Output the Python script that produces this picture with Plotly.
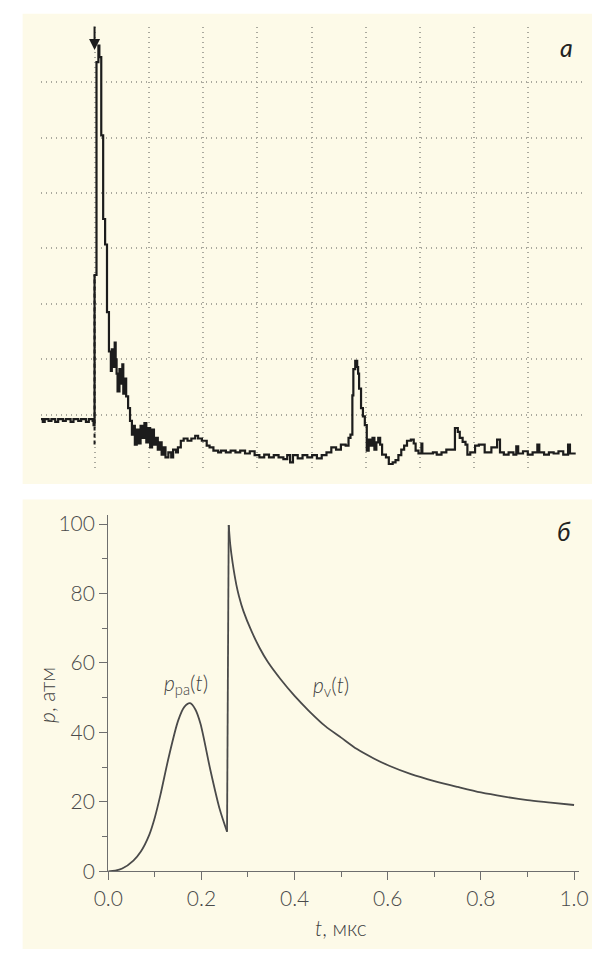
import plotly.graph_objects as go

# ---------------- panel a: oscilloscope trace (grid divisions) ----------------
scope_t = [0.00, 0.035, 0.071, 0.142, 0.195, 0.265, 0.319, 0.407, 0.460, 0.549,
           0.602, 0.690, 0.743, 0.832, 0.885, 0.956, 0.973, 0.991, 1.027, 1.062,
           1.080, 1.115, 1.150, 1.186, 1.221, 1.257, 1.292, 1.310, 1.345, 1.363,
           1.381, 1.398, 1.416, 1.451, 1.469, 1.504, 1.522, 1.558, 1.575, 1.611,
           1.646, 1.681, 1.699, 1.735, 1.770, 1.805, 1.841, 1.876, 1.912, 1.947,
           1.982, 2.018, 2.053, 2.088, 2.124, 2.159, 2.195, 2.230, 2.265, 2.301,
           2.354, 2.407, 2.442, 2.496, 2.531, 2.584, 2.637, 2.708, 2.779, 2.850,
           2.903, 2.973, 3.062, 3.115, 3.186, 3.274, 3.327, 3.416, 3.504, 3.593,
           3.681, 3.770, 3.858, 3.947, 4.035, 4.124, 4.212, 4.301, 4.389, 4.478,
           4.549, 4.602, 4.655, 4.743, 4.832, 4.920, 5.009, 5.097, 5.186, 5.274,
           5.363, 5.451, 5.540, 5.628, 5.681, 5.717, 5.752, 5.770, 5.805, 5.841,
           5.858, 5.876, 5.912, 5.947, 5.982, 6.018, 6.053, 6.088, 6.124, 6.159,
           6.195, 6.230, 6.265, 6.301, 6.372, 6.425, 6.496, 6.549, 6.602, 6.655,
           6.708, 6.761, 6.832, 6.885, 6.920, 6.973, 7.027, 7.044, 7.133, 7.239,
           7.310, 7.398, 7.487, 7.575, 7.646, 7.699, 7.735, 7.788, 7.841, 7.876,
           7.929, 8.018, 8.088, 8.195, 8.319, 8.425, 8.478, 8.549, 8.637, 8.726,
           8.779, 8.814, 8.903, 8.991, 9.080, 9.168, 9.204, 9.292, 9.381, 9.469,
           9.558, 9.646, 9.735, 9.770, 9.876]
scope_v = [0.92, 0.87, 0.92, 0.89, 0.92, 0.87, 0.92, 0.89, 0.92, 0.87,
           0.92, 0.89, 0.92, 0.87, 0.92, 0.89, 0.81, 3.52, 7.36, 7.66,
           7.45, 6.04, 4.53, 4.07, 2.85, 2.14, 1.79, 2.18, 1.86, 2.30,
           2.00, 1.74, 1.42, 1.82, 1.56, 1.91, 1.38, 1.65, 1.33, 1.12,
           0.89, 0.64, 0.80, 0.46, 0.73, 0.48, 0.80, 0.58, 0.85, 0.50,
           0.76, 0.41, 0.73, 0.46, 0.58, 0.37, 0.50, 0.28, 0.41, 0.23,
           0.32, 0.23, 0.37, 0.32, 0.41, 0.53, 0.57, 0.53, 0.57, 0.62,
           0.57, 0.53, 0.44, 0.41, 0.35, 0.32, 0.35, 0.32, 0.35, 0.32,
           0.35, 0.30, 0.34, 0.27, 0.23, 0.28, 0.23, 0.27, 0.23, 0.20,
           0.27, 0.14, 0.27, 0.21, 0.27, 0.23, 0.27, 0.21, 0.27, 0.32,
           0.41, 0.37, 0.46, 0.44, 0.58, 0.64, 1.35, 1.82, 1.97, 1.86,
           1.74, 1.47, 1.12, 0.97, 0.81, 0.35, 0.55, 0.44, 0.58, 0.37,
           0.50, 0.58, 0.46, 0.28, 0.23, 0.11, 0.14, 0.18, 0.27, 0.37,
           0.44, 0.53, 0.55, 0.48, 0.35, 0.30, 0.48, 0.30, 0.30, 0.32,
           0.28, 0.32, 0.37, 0.37, 0.76, 0.69, 0.58, 0.51, 0.46, 0.28,
           0.32, 0.44, 0.46, 0.32, 0.41, 0.55, 0.32, 0.28, 0.32, 0.28,
           0.43, 0.30, 0.34, 0.28, 0.32, 0.46, 0.32, 0.28, 0.32, 0.30,
           0.34, 0.28, 0.46, 0.30, 0.30]

# fast rising edge (drawn dashed) and trigger marker position
edge_t = 0.991
edge_v = [0.46, 3.52]
trigger_v = 7.58

# ---------------- panel б: computed pressure ----------------
t_pa = [0.0, 0.015, 0.030, 0.054, 0.070, 0.088, 0.100, 0.112, 0.130, 0.150,
        0.163, 0.1756, 0.187, 0.198, 0.219, 0.239, 0.255]
p_pa = [0.0, 0.2, 0.8, 3.1, 5.7, 10.5, 15.5, 22.0, 33.0, 43.4,
        47.3, 48.4, 46.6, 42.5, 29.3, 18.0, 11.4]

t_v = [0.2586, 0.262, 0.267, 0.275, 0.2805, 0.290, 0.308, 0.325, 0.342, 0.370,
       0.400, 0.430, 0.466, 0.500, 0.534, 0.570, 0.603, 0.650, 0.700, 0.750,
       0.800, 0.850, 0.900, 0.950, 1.000]
p_v = [99.7, 94.0, 88.8, 82.5, 79.3, 75.0, 69.0, 64.3, 60.4, 55.3,
       50.5, 46.3, 41.8, 38.5, 35.2, 32.5, 30.4, 28.0, 26.0, 24.3,
       22.7, 21.5, 20.5, 19.8, 19.1]

x_ticks = [0.0, 0.2, 0.4, 0.6, 0.8, 1.0]
y_ticks = [0, 20, 40, 60, 80, 100]

W, H = 602, 960
CREAM = "#fdfae8"
INK = "#1c1c1c"
CURVE = "#4a4a4a"
AXIS = "#6e6e6e"
FONT = "Lato"


def px_x(v):
    """Window x position -> paper fraction."""
    return v / W


def px_y(v):
    """Window y position (from top) -> paper fraction."""
    return 1 - v / H


fig = go.Figure()

# oscilloscope trace
fig.add_trace(go.Scatter(x=scope_t, y=scope_v, mode="lines",
                         line=dict(color=INK, width=2.2, shape="hv"),
                         xaxis="x2", yaxis="y2", showlegend=False,
                         hoverinfo="skip"))
fig.add_trace(go.Scatter(x=[edge_t, edge_t], y=edge_v, mode="lines",
                         line=dict(color=INK, width=2, dash="4px,3px"),
                         xaxis="x2", yaxis="y2", showlegend=False,
                         hoverinfo="skip"))

# pressure curves
fig.add_trace(go.Scatter(x=t_pa, y=p_pa, mode="lines",
                         line=dict(color=CURVE, width=1.8, shape="spline", smoothing=0.8),
                         showlegend=False, hoverinfo="skip"))
fig.add_trace(go.Scatter(x=[t_pa[-1], t_v[0]], y=[p_pa[-1], p_v[0]], mode="lines",
                         line=dict(color=CURVE, width=1.8),
                         showlegend=False, hoverinfo="skip"))
fig.add_trace(go.Scatter(x=t_v, y=p_v, mode="lines",
                         line=dict(color=CURVE, width=1.8, shape="spline", smoothing=0.8),
                         showlegend=False, hoverinfo="skip"))

# panel backgrounds
shapes = [
    dict(type="rect", xref="paper", yref="paper", layer="below",
         x0=px_x(8), x1=1, y0=px_y(487), y1=px_y(9),
         fillcolor=CREAM, line=dict(width=0)),
    dict(type="rect", xref="paper", yref="paper", layer="below",
         x0=px_x(8), x1=1, y0=0, y1=px_y(503),
         fillcolor=CREAM, line=dict(width=0)),
]

grid_style = dict(showgrid=True, gridcolor="#aaa99e", gridwidth=1.6,
                  griddash="1.6px,3.4px", zeroline=False, showline=False,
                  showticklabels=False, ticks="", dtick=1, fixedrange=True)

tick_font = dict(family=FONT, size=21, color="#4a4a4a", weight=300)
label_font = dict(family=FONT, size=21, color="#404040", weight=300)
centered = dict(xanchor="center", yanchor="middle", showarrow=False)

annotations = [
    # trigger arrow
    dict(x=edge_t, y=trigger_v, xref="x2", yref="y2", text="", showarrow=True,
         ax=0, ay=-25, arrowhead=2, arrowsize=1.1, arrowwidth=2, arrowcolor=INK),
    # panel letters
    dict(x=px_x(575), y=px_y(43), xref="paper", yref="paper", text="<i>а</i>",
         font=dict(family=FONT, size=25, color="#222222"), **centered),
    dict(x=px_x(573), y=px_y(535), xref="paper", yref="paper", text="<i>б</i>",
         font=dict(family=FONT, size=25, color="#222222"), **centered),
    # axis titles
    dict(x=px_x(33), y=px_y(702), xref="paper", yref="paper",
         text="<i>p</i>, атм", textangle=-90, font=label_font, **centered),
    dict(x=px_x(340), y=px_y(938), xref="paper", yref="paper",
         text="<i>t</i>, мкс", font=label_font, **centered),
    # curve labels
    dict(x=0.166, y=54.0, xref="x", yref="y",
         text="<i>p</i><sub>ра</sub>(<i>t</i>)", font=label_font, **centered),
    dict(x=0.479, y=53.3, xref="x", yref="y",
         text="<i>p</i><sub>v</sub>(<i>t</i>)", font=label_font, **centered),
]

fig.update_layout(
    width=W, height=H,
    margin=dict(l=0, r=0, t=0, b=0),
    paper_bgcolor="white",
    plot_bgcolor="rgba(0,0,0,0)",
    shapes=shapes,
    annotations=annotations,
    xaxis2=dict(domain=[px_x(27), px_x(592)], range=[0, 10], anchor="y2", **grid_style),
    yaxis2=dict(domain=[px_y(473), px_y(22)], range=[0, 8], anchor="x2", **grid_style),
    xaxis=dict(domain=[px_x(97.3), px_x(588)], range=[0, 1.0097], anchor="y",
               showgrid=False, zeroline=False, showline=True, linecolor=AXIS,
               linewidth=1.2, ticks="outside", ticklen=8, tickwidth=1.2,
               tickcolor=AXIS, tickvals=x_ticks, tickformat=".1f",
               tickfont=tick_font, fixedrange=True,
               minor=dict(dtick=0.1, ticks="outside", ticklen=5,
                          tickcolor=AXIS, tickwidth=1.2, showgrid=False)),
    yaxis=dict(domain=[px_y(881), px_y(519)], range=[0, 102.5], anchor="x",
               showgrid=False, zeroline=False, showline=True, linecolor=AXIS,
               linewidth=1.2, ticks="outside", ticklen=8, tickwidth=1.2,
               tickcolor=AXIS, tickvals=y_ticks, tickfont=tick_font,
               fixedrange=True,
               minor=dict(dtick=10, ticks="outside", ticklen=5,
                          tickcolor=AXIS, tickwidth=1.2, showgrid=False)),
)

fig.write_html("out.html", config=dict(displayModeBar=False))
